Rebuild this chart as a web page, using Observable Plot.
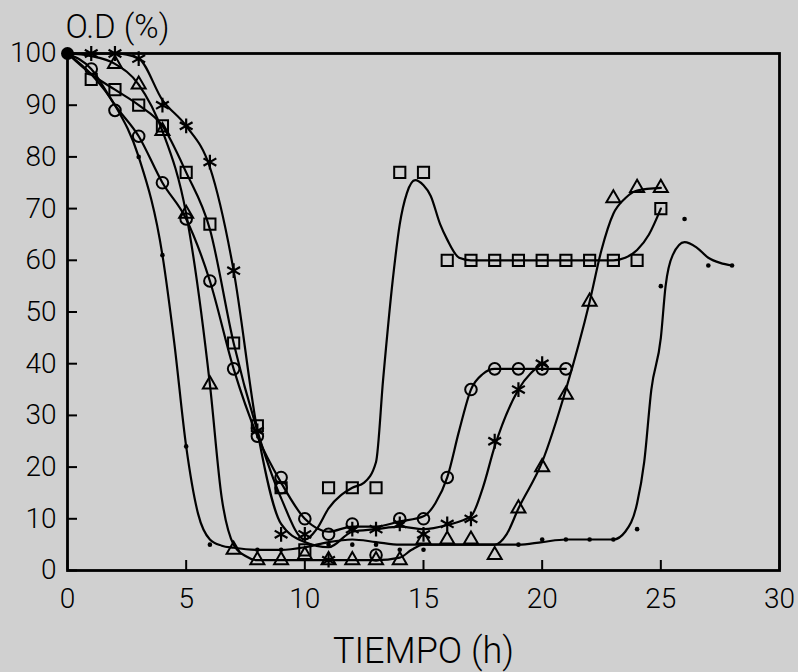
<!DOCTYPE html>
<html>
<head>
<meta charset="utf-8">
<script src="https://cdn.jsdelivr.net/npm/d3@7"></script>
<script src="https://cdn.jsdelivr.net/npm/@observablehq/plot@0.6"></script>
<style>
html, body { margin: 0; padding: 0; background: #d0d0d0; }
#chart { width: 798px; height: 672px; }
</style>
</head>
<body>
<div id="chart"></div>
<script>
// ---- axis ticks ----
const timeTicks = [0, 5, 10, 15, 20, 25, 30];
const odTicks = [0, 10, 20, 30, 40, 50, 60, 70, 80, 90, 100];

// ---- common origin (large filled dot) ----
const originTime = [0];
const originOD = [100];

// ---- squares ----
const squareTime = [1, 2, 3, 4, 5, 6, 7, 8, 9, 10, 11, 12, 13, 14, 15, 16, 17, 18, 19, 20, 21, 22, 23, 24, 25];
const squareOD   = [95, 93, 90, 86, 77, 67, 44, 28, 16, 4, 16, 16, 16, 77, 77, 60, 60, 60, 60, 60, 60, 60, 60, 60, 70];
const squareCurveTime = [0, 1, 2, 3, 4, 5, 6, 7, 8, 9, 10, 10.5, 11, 12, 12.5, 13, 13.3, 13.7, 14, 14.3, 14.65, 15, 15.3, 15.7, 16, 16.5, 17, 18, 19, 20, 21, 22, 23, 23.5, 24, 24.5, 25];
const squareCurveOD   = [100, 96, 93, 90, 86, 77, 66, 44, 27, 14, 6, 8, 12, 16, 17, 21, 37, 56, 67, 73, 75.5, 74.5, 72.5, 67, 64, 60.5, 60, 60, 60, 60, 60, 60, 60, 60.5, 62, 65, 70];

// ---- circles ----
const circleTime = [1, 2, 3, 4, 5, 6, 7, 8, 9, 9, 10, 11, 12, 13, 14, 15, 16, 17, 18, 19, 20, 21];
const circleOD   = [97, 89, 84, 75, 68, 56, 39, 26, 18, 16, 10, 7, 9, 3, 10, 10, 18, 35, 39, 39, 39, 39];
const circleCurveTime = [0, 1, 2, 3, 4, 5, 6, 7, 8, 9, 10, 11, 12, 13, 14, 15, 15.5, 16, 16.5, 17, 17.5, 18, 19, 20, 21];
const circleCurveOD   = [100, 97, 90, 84, 75, 68, 56, 39, 26, 17, 10, 7.5, 8.5, 8.5, 9.5, 10.5, 13, 18, 27, 35, 38, 39, 39, 39, 39];

// ---- asterisks ----
const starTime = [1, 2, 3, 4, 5, 6, 7, 8, 9, 10, 11, 12, 13, 14, 15, 16, 17, 18, 19, 20];
const starOD   = [100, 100, 99, 90, 86, 79, 58, 27, 7, 7, 2, 8, 8, 9, 7, 9, 10, 25, 35, 40];
const starCurveTime = [0, 1, 2, 3, 4, 5, 6, 7, 8, 9, 10, 11, 12, 13, 14, 15, 16, 17, 17.5, 18, 19, 20];
const starCurveOD   = [100, 100, 100, 99, 91, 86, 78, 58, 27, 9, 5.5, 4.5, 7.5, 8, 8.5, 8, 8.8, 10.5, 16, 24, 35, 40];

// ---- triangles ----
const triangleTime = [2, 3, 4, 5, 6, 7, 8, 9, 10, 11, 12, 13, 14, 15, 16, 17, 18, 19, 20, 21, 22, 23, 24, 25];
const triangleOD   = [98, 94, 85, 69, 36, 4, 2, 2, 3, 2, 2, 2, 2, 6, 6, 6, 3, 12, 20, 34, 52, 72, 74, 74];
const triangleCurveTime = [0, 1, 2, 3, 4, 5, 6, 6.5, 7, 7.5, 8, 9, 10, 11, 12, 13, 14, 14.5, 15, 16, 17, 18, 18.5, 19, 20, 21, 22, 22.5, 23, 23.5, 24, 25];
const triangleCurveOD   = [100, 99.5, 98, 94, 85, 69, 36, 14, 5, 2.8, 2, 2, 2, 2, 2, 2, 2.5, 4, 5, 5, 5, 5, 7, 12, 21, 35, 52, 62, 69, 72, 73.5, 74];

// ---- small dots ----
const dotTime = [3, 4, 5, 6, 8, 9, 11, 12, 13, 14, 15, 19, 20, 21, 22, 23, 24, 25, 26, 27, 28];
const dotOD   = [80, 61, 24, 5, 4, 4, 5, 5, 5, 4, 4, 5, 6, 6, 6, 6, 8, 55, 68, 59, 59];
const dotCurveTime = [0, 1, 2, 3, 4, 4.5, 5, 5.5, 6, 6.5, 7, 8, 9, 10, 11, 12, 13, 14, 15, 16, 17, 18, 19, 20, 21, 22, 23, 23.5, 24, 24.3, 24.6, 25, 25.2, 25.5, 26, 26.5, 27, 27.5, 28];
const dotCurveOD   = [100, 96, 90, 80, 61, 44, 24, 11, 6, 4.8, 4.4, 4, 4, 4.5, 5.5, 6, 5.5, 5, 5, 5, 5, 5, 5, 5.5, 6, 6, 6, 7.5, 13, 21, 35, 45, 55, 61, 63.5, 62.5, 60.5, 59.5, 59];

const rows = (t, v) => t.map((x, i) => ({t: x, v: v[i]}));

const lineOpts = {x: "t", y: "v", curve: "monotone-x", stroke: "#000", strokeWidth: 2.2};
const markOpts = {x: "t", y: "v", stroke: "#000", strokeWidth: 2, fill: "none"};

const chart = Plot.plot({
  width: 798,
  height: 672,
  marginLeft: 67,
  marginRight: 19,
  marginTop: 53,
  marginBottom: 102,
  style: {background: "transparent", fontFamily: "Roboto, 'Liberation Sans', Arial, sans-serif", fontWeight: 300, color: "#000"},
  x: {domain: [0, 30]},
  y: {domain: [0, 100]},
  marks: [
    Plot.axisX({ticks: timeTicks, tickSize: -10, tickPadding: 28, fontSize: 28, fontWeight: 300, strokeWidth: 2, label: null}),
    Plot.axisY({ticks: odTicks, tickSize: -10, tickPadding: 21, fontSize: 28, fontWeight: 300, strokeWidth: 2, label: null}),
    Plot.text(["TIEMPO (h)"], {text: d => d, frameAnchor: "bottom", lineAnchor: "bottom", dy: 92, fontSize: 36, fontWeight: 300}),
    Plot.text(["O.D (%)"], {text: d => d, frameAnchor: "top-left", textAnchor: "start", lineAnchor: "bottom", dy: -16, dx: -2, fontSize: 33, fontWeight: 300}),
    Plot.line(rows(squareCurveTime, squareCurveOD), lineOpts),
    Plot.line(rows(circleCurveTime, circleCurveOD), lineOpts),
    Plot.line(rows(starCurveTime, starCurveOD), lineOpts),
    Plot.line(rows(triangleCurveTime, triangleCurveOD), lineOpts),
    Plot.line(rows(dotCurveTime, dotCurveOD), lineOpts),
    Plot.dot(rows(squareTime, squareOD), {...markOpts, symbol: "square", r: 6.3}),
    Plot.dot(rows(circleTime, circleOD), {...markOpts, symbol: "circle", r: 5.8}),
    Plot.dot(rows(triangleTime, triangleOD), {...markOpts, symbol: "triangle", r: 5.2}),
    Plot.dot(rows(starTime, starOD), {...markOpts, symbol: "asterisk", r: 7, strokeWidth: 2.2}),
    Plot.dot(rows(dotTime, dotOD), {x: "t", y: "v", r: 2.3, fill: "#000"}),
    Plot.dot(rows(originTime, originOD), {x: "t", y: "v", r: 6.5, fill: "#000"}),
    Plot.frame({stroke: "#000", strokeWidth: 2.8})
  ]
});
document.getElementById("chart").appendChild(chart);
</script>
</body>
</html>
